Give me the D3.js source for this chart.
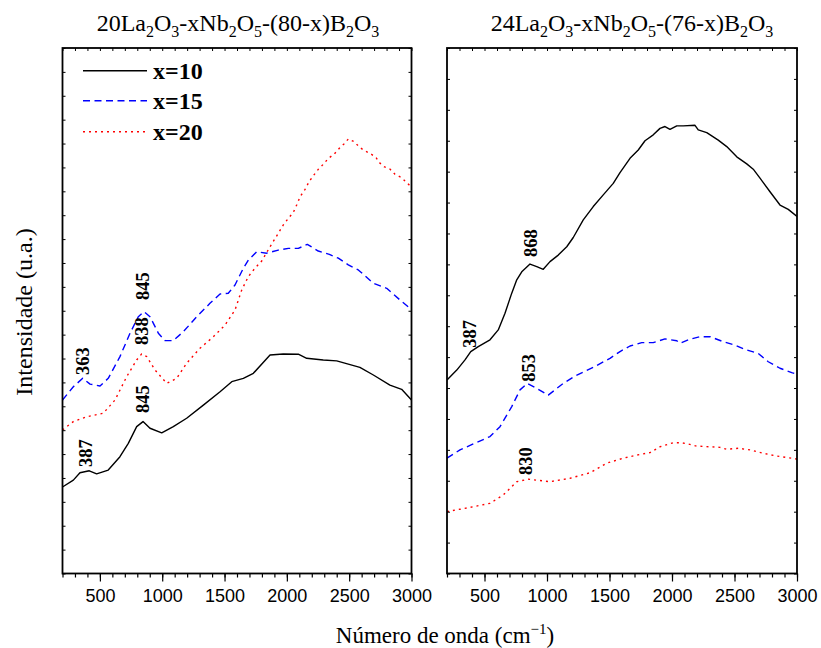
<!DOCTYPE html>
<html>
<head>
<meta charset="utf-8">
<script src="https://cdn.jsdelivr.net/npm/d3@7/dist/d3.min.js"></script>
<style>
  html, body { margin: 0; padding: 0; background: #fff; }
  svg { display: block; }
</style>
</head>
<body>
<svg id="chart" width="821" height="648"></svg>
<script>
// ---- Raman spectra: [wavenumber (cm^-1), intensity (a.u., offset)] ----
// 20La2O3-xNb2O5-(80-x)B2O3
const left_x10 = [
  [200,3.62],[287,3.91],[340,4.22],[415,4.30],[474,4.17],[567,4.33],[661,4.89],[728,5.45],
  [795,6.15],[846,6.36],[902,6.08],[996,5.89],[1089,6.15],[1196,6.50],[1330,7.05],[1464,7.61],
  [1558,8.03],[1651,8.17],[1731,8.38],[1865,9.15],[1971,9.19],[2092,9.18],[2159,9.01],
  [2292,8.94],[2400,8.90],[2586,8.63],[2694,8.31],[2827,7.89],[2921,7.71],[3000,7.26]
];
const left_x15 = [
  [200,7.26],[287,7.82],[362,8.17],[421,7.93],[501,7.85],[567,8.17],[661,9.08],[742,10.06],
  [808,10.75],[854,10.96],[902,10.75],[969,10.06],[1022,9.75],[1089,9.75],[1169,10.12],
  [1277,10.75],[1383,11.31],[1464,11.70],[1530,11.73],[1584,12.08],[1651,12.78],[1691,13.12],
  [1758,13.47],[1838,13.41],[1931,13.54],[2012,13.61],[2092,13.61],[2164,13.78],[2252,13.50],
  [2341,13.36],[2413,13.20],[2493,12.92],[2573,12.71],[2694,12.15],[2801,11.94],[2908,11.45],
  [3000,11.05]
];
const left_x20 = [
  [200,6.01],[287,6.36],[394,6.56],[527,6.71],[621,7.26],[715,8.24],[795,8.94],[835,9.19],
  [876,9.08],[942,8.52],[1036,7.96],[1116,8.17],[1196,8.80],[1303,9.43],[1410,9.91],
  [1504,10.40],[1584,11.03],[1638,11.87],[1691,12.43],[1744,12.78],[1798,13.08],[1865,13.68],
  [1931,14.24],[1971,14.59],[2012,14.87],[2052,15.12],[2079,15.43],[2106,15.77],[2146,16.08],
  [2178,16.40],[2212,16.65],[2252,16.92],[2292,17.13],[2333,17.38],[2378,17.55],[2421,17.80],
  [2458,17.98],[2493,18.19],[2539,18.08],[2587,17.83],[2627,17.69],[2667,17.59],[2715,17.42],
  [2739,17.22],[2779,17.03],[2827,16.93],[2868,16.71],[2921,16.57],[2962,16.36],[3000,16.18]
];
// 24La2O3-xNb2O5-(76-x)B2O3
const right_x10 = [
  [200,6.26],[278,6.58],[344,6.91],[390,7.18],[450,7.34],[544,7.56],[610,7.88],[664,8.42],
  [718,9.07],[758,9.50],[798,9.76],[864,10.01],[918,9.93],[970,9.84],[1024,10.09],[1090,10.30],
  [1158,10.57],[1210,10.87],[1290,11.44],[1370,11.87],[1450,12.25],[1530,12.62],[1584,12.97],
  [1664,13.43],[1730,13.70],[1784,14.00],[1850,14.19],[1904,14.40],[1944,14.46],[1984,14.37],
  [2038,14.48],[2090,14.48],[2184,14.50],[2210,14.35],[2278,14.26],[2370,14.02],[2438,13.81],
  [2518,13.48],[2598,13.25],[2650,13.08],[2704,12.79],[2784,12.35],[2864,11.92],[2930,11.78],
  [3000,11.55]
];
const right_x15 = [
  [200,3.73],[304,4.00],[410,4.19],[544,4.43],[624,4.75],[718,5.40],[784,5.94],[842,6.15],
  [918,5.99],[1010,5.77],[1130,6.15],[1224,6.39],[1370,6.67],[1504,6.96],[1584,7.18],
  [1664,7.36],[1758,7.47],[1850,7.47],[1944,7.59],[2038,7.53],[2064,7.45],[2144,7.58],
  [2224,7.66],[2304,7.66],[2410,7.50],[2504,7.39],[2584,7.25],[2690,7.12],[2770,6.85],
  [2864,6.64],[2958,6.50],[3000,6.45]
];
const right_x20 = [
  [200,2.00],[304,2.08],[410,2.16],[544,2.27],[650,2.54],[758,2.97],[850,3.05],[1024,2.97],
  [1184,3.08],[1344,3.26],[1478,3.57],[1610,3.73],[1718,3.83],[1824,3.91],[1904,4.10],
  [2010,4.23],[2078,4.23],[2130,4.19],[2198,4.12],[2304,4.10],[2384,4.08],[2438,4.02],
  [2530,4.05],[2624,4.00],[2730,3.89],[2838,3.80],[2958,3.73],[3000,3.70]
];

// Series names in legend order
const seriesNames = ["x=10", "x=15", "x=20"];

// Band assignments: [wavenumber, label bottom (a.u.)]
const left_bands = [[387, 4.46], [845, 6.72], [363, 8.31], [838, 9.57], [845, 11.45]];
const right_bands = [[387, 7.30], [868, 10.24], [853, 6.20], [830, 3.19]];

// Axis ticks
const xMajorTicks = [500, 1000, 1500, 2000, 2500, 3000];
const xMinorTicks = d3.range(200, 3001, 100);
const xDomain = [200, 3000];
const leftYDomain = [0, 22];
const rightYDomain = [0, 17];

// Panel titles as [text, isSubscript] runs
const leftTitle = [["20La",0],["2",1],["O",0],["3",1],["-xNb",0],["2",1],["O",0],["5",1],["-(80-x)B",0],["2",1],["O",0],["3",1]];
const rightTitle = [["24La",0],["2",1],["O",0],["3",1],["-xNb",0],["2",1],["O",0],["5",1],["-(76-x)B",0],["2",1],["O",0],["3",1]];

// ---- drawing ----
const svg = d3.select("#chart");
const SERIF = "'Liberation Serif', 'Times New Roman', serif";
const SANS = "'Liberation Sans', Arial, sans-serif";
const styles = {
  "x=10": { color: "#000000", dash: null },
  "x=15": { color: "#0000ff", dash: "7,4.5" },
  "x=20": { color: "#ff0000", dash: "2,4" }
};

const plotTop = 48, plotBottom = 573.5;

const panels = [
  { x0: 62.5, x1: 411.5, yDomain: leftYDomain, series: { "x=10": left_x10, "x=15": left_x15, "x=20": left_x20 }, bands: left_bands, title: leftTitle, titleX: 238 },
  { x0: 447, x1: 797, yDomain: rightYDomain, series: { "x=10": right_x10, "x=15": right_x15, "x=20": right_x20 }, bands: right_bands, title: rightTitle, titleX: 632 }
];

panels.forEach((p, i) => {
  const x = d3.scaleLinear().domain(xDomain).range([p.x0, p.x1]);
  const y = d3.scaleLinear().domain(p.yDomain).range([plotBottom, plotTop]);
  const g = svg.append("g");

  const clipId = "clip" + i;
  svg.append("clipPath").attr("id", clipId).append("rect")
    .attr("x", p.x0).attr("y", plotTop).attr("width", p.x1 - p.x0).attr("height", plotBottom - plotTop);

  // spectra
  const line = d3.line().x(d => x(d[0])).y(d => y(d[1]));
  seriesNames.forEach(name => {
    g.append("path")
      .datum(p.series[name])
      .attr("clip-path", `url(#${clipId})`)
      .attr("fill", "none")
      .attr("stroke", styles[name].color)
      .attr("stroke-width", 1.4)
      .attr("stroke-dasharray", styles[name].dash)
      .attr("stroke-linejoin", "round")
      .attr("d", line);
  });

  // band labels
  g.selectAll("text.band").data(p.bands).enter().append("text")
    .attr("class", "band")
    .attr("transform", d => `translate(${x(d[0]) + 6},${y(d[1])}) rotate(-90)`)
    .attr("text-anchor", "start")
    .attr("font-family", SERIF)
    .attr("font-weight", "bold")
    .attr("font-size", 18.5)
    .attr("fill", "#000")
    .text(d => d[0]);

  // bottom axis: minor + major ticks pointing out, labels on major ticks
  const axMinor = d3.axisBottom(x).tickValues(xMinorTicks).tickSize(4).tickFormat("");
  const axMajor = d3.axisBottom(x).tickValues(xMajorTicks).tickSize(8).tickPadding(8).tickFormat(d3.format("d"));
  [axMinor, axMajor].forEach(ax => {
    const a = g.append("g").attr("transform", `translate(0,${plotBottom})`).call(ax);
    a.select(".domain").remove();
    a.selectAll("line").attr("stroke", "#000").attr("stroke-width", 1.2);
    a.selectAll("text").attr("font-family", SANS).attr("font-size", 18).attr("fill", "#000");
  });

  // top axis: small inward ticks
  const axTop = d3.axisBottom(x).tickValues(xMinorTicks).tickSize(3).tickFormat("");
  const at = g.append("g").attr("transform", `translate(0,${plotTop})`).call(axTop);
  at.select(".domain").remove();
  at.selectAll("line").attr("stroke", "#000").attr("stroke-width", 1);

  // y ticks on both sides (no labels)
  const yTicks = d3.range(p.yDomain[0], p.yDomain[1] + 1, 1);
  const axL = d3.axisRight(y).tickValues(yTicks).tickSize(3).tickFormat("");
  const axR = d3.axisLeft(y).tickValues(yTicks).tickSize(3).tickFormat("");
  [[axL, p.x0], [axR, p.x1]].forEach(([ax, px]) => {
    const a = g.append("g").attr("transform", `translate(${px},0)`).call(ax);
    a.select(".domain").remove();
    a.selectAll("line").attr("stroke", "#000").attr("stroke-width", 1);
  });

  // frame
  g.append("rect")
    .attr("x", p.x0).attr("y", plotTop)
    .attr("width", p.x1 - p.x0).attr("height", plotBottom - plotTop)
    .attr("fill", "none").attr("stroke", "#000").attr("stroke-width", 1.8);

  // title with subscripts
  const t = g.append("text")
    .attr("x", p.titleX).attr("y", 31)
    .attr("text-anchor", "middle")
    .attr("font-family", SERIF)
    .attr("font-size", 24)
    .attr("fill", "#000");
  let sub = false;
  p.title.forEach(([s, isSub]) => {
    const ts = t.append("tspan").text(s);
    if (isSub && !sub) { ts.attr("dy", 6).attr("font-size", 16); }
    else if (!isSub && sub) { ts.attr("dy", -6); }
    else if (isSub) { ts.attr("font-size", 16); }
    sub = !!isSub;
  });
});

// legend in left panel
const legendY = [70.7, 100.7, 131.7];
seriesNames.forEach((name, i) => {
  svg.append("line")
    .attr("x1", 83).attr("x2", 147)
    .attr("y1", legendY[i]).attr("y2", legendY[i])
    .attr("stroke", styles[name].color)
    .attr("stroke-width", 1.4)
    .attr("stroke-dasharray", styles[name].dash);
  svg.append("text")
    .attr("x", 153).attr("y", legendY[i] + 8)
    .attr("font-family", SERIF).attr("font-weight", "bold").attr("font-size", 24)
    .attr("fill", "#000")
    .text(name);
});

// axis titles
svg.append("text")
  .attr("transform", "translate(32,312) rotate(-90)")
  .attr("text-anchor", "middle")
  .attr("font-family", SERIF).attr("font-size", 24).attr("fill", "#000")
  .text("Intensidade (u.a.)");

const xl = svg.append("text")
  .attr("x", 445).attr("y", 643)
  .attr("text-anchor", "middle")
  .attr("font-family", SERIF).attr("font-size", 23).attr("fill", "#000");
xl.append("tspan").text("Número de onda (cm");
xl.append("tspan").attr("dy", -9).attr("font-size", 15).text("−1");
xl.append("tspan").attr("dy", 9).text(")");
</script>
</body>
</html>
